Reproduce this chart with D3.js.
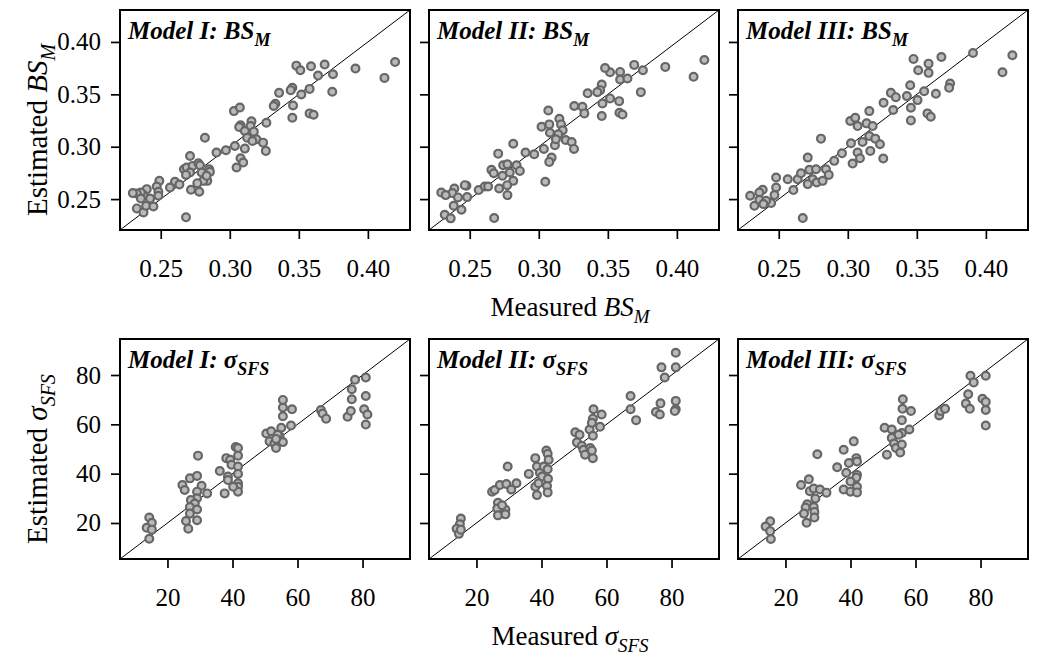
<!DOCTYPE html>
<html>
<head>
<meta charset="utf-8">
<script src="https://cdn.jsdelivr.net/npm/d3@7"></script>
<style>
  body { margin: 0; background: #fff; }
  svg { display: block; }
  text { font-family: "Liberation Serif", "Times New Roman", serif; fill: #000; }
</style>
</head>
<body>
<svg id="chart" width="1037" height="660"></svg>
<script>
// ---- Data: measured vs. estimated BS_M (top row) and sigma_SFS (bottom row) ----
const modelNames = ["Model I", "Model II", "Model III"];

const bsTicks = [0.25, 0.30, 0.35, 0.40];
const sfsTicks = [20, 40, 60, 80];

const bsMeasuredI = [0.3482,0.3511,0.3588,0.3687,0.3639,0.3747,0.3910,0.4197,0.4120,0.3742,0.3578,0.3518,0.3453,0.3441,0.3357,0.3330,0.3318,0.3458,0.3453,0.3578,0.3607,0.3030,0.3073,0.3078,0.3068,0.3157,0.3150,0.3265,0.3109,0.3174,0.3126,0.3193,0.3164,0.3241,0.3261,0.3109,0.3037,0.2972,0.2904,0.2820,0.3078,0.3097,0.3049,0.2712,0.2668,0.2688,0.2731,0.2772,0.2784,0.2851,0.2856,0.2796,0.2837,0.2808,0.2765,0.2712,0.2683,0.2719,0.2779,0.2683,0.2603,0.2567,0.2635,0.2832,0.2490,0.2471,0.2483,0.2483,0.2399,0.2375,0.2356,0.2327,0.2298,0.2327,0.2375,0.2394,0.2447,0.2423,0.2356];
const bsEstimatedI = [0.3774,0.3730,0.3768,0.3784,0.3679,0.3692,0.3746,0.3809,0.3657,0.3524,0.3552,0.3499,0.3562,0.3540,0.3514,0.3410,0.3388,0.3394,0.3277,0.3318,0.3305,0.3340,0.3375,0.3204,0.3188,0.3242,0.3197,0.3229,0.3150,0.3144,0.3086,0.3071,0.3055,0.3039,0.2960,0.2982,0.3007,0.2966,0.2944,0.3086,0.2890,0.2849,0.2801,0.2912,0.2785,0.2801,0.2817,0.2842,0.2823,0.2785,0.2760,0.2754,0.2674,0.2674,0.2652,0.2754,0.2731,0.2589,0.2570,0.2326,0.2665,0.2611,0.2639,0.2722,0.2674,0.2620,0.2570,0.2532,0.2595,0.2538,0.2563,0.2554,0.2557,0.2411,0.2373,0.2437,0.2430,0.2506,0.2506];

const bsMeasuredII = [0.4199,0.4121,0.3916,0.3691,0.3754,0.3589,0.3516,0.3480,0.3589,0.3642,0.3739,0.3456,0.3444,0.3424,0.3354,0.3516,0.3582,0.3461,0.3257,0.3316,0.3330,0.3456,0.3584,0.3606,0.3069,0.3020,0.3076,0.3149,0.3161,0.3081,0.3173,0.3141,0.3117,0.3124,0.3195,0.3238,0.3255,0.3037,0.2967,0.2904,0.2815,0.2706,0.3093,0.3076,0.3047,0.2657,0.2674,0.2742,0.2773,0.2839,0.2863,0.2790,0.2737,0.2815,0.2771,0.2713,0.2773,0.2677,0.2565,0.2609,0.2633,0.2476,0.2464,0.2481,0.2389,0.2374,0.2294,0.2326,0.2384,0.2319,0.2362,0.2440,0.2415];
const bsEstimatedII = [0.3828,0.3667,0.3762,0.3781,0.3730,0.3714,0.3711,0.3752,0.3641,0.3651,0.3521,0.3594,0.3540,0.3521,0.3511,0.3461,0.3435,0.3413,0.3388,0.3381,0.3318,0.3293,0.3324,0.3308,0.3346,0.3191,0.3213,0.3267,0.3213,0.3134,0.3156,0.3118,0.3014,0.3071,0.3064,0.3045,0.2979,0.2979,0.2928,0.2944,0.3029,0.2934,0.2896,0.2855,0.2665,0.2779,0.2747,0.2823,0.2833,0.2823,0.2769,0.2754,0.2722,0.2674,0.2633,0.2601,0.2538,0.2319,0.2586,0.2620,0.2620,0.2627,0.2633,0.2519,0.2601,0.2557,0.2563,0.2538,0.2437,0.2351,0.2316,0.2399,0.2516];

const bsMeasuredIII = [0.4192,0.4120,0.3907,0.3678,0.3585,0.3476,0.3510,0.3585,0.3452,0.3553,0.3638,0.3741,0.3734,0.3312,0.3348,0.3428,0.3505,0.3457,0.3329,0.3259,0.3156,0.3457,0.3577,0.3601,0.3018,0.3054,0.3071,0.3136,0.3180,0.3023,0.3107,0.3156,0.3199,0.3233,0.3163,0.3071,0.3088,0.3035,0.3257,0.2958,0.2902,0.2806,0.2710,0.2565,0.2481,0.2637,0.2661,0.2722,0.2770,0.2842,0.2862,0.2746,0.2710,0.2775,0.2818,0.2606,0.2674,0.2481,0.2469,0.2445,0.2384,0.2360,0.2293,0.2324,0.2360,0.2408,0.2389];
const bsEstimatedIII = [0.3873,0.3711,0.3895,0.3857,0.3793,0.3838,0.3730,0.3705,0.3587,0.3530,0.3505,0.3603,0.3562,0.3514,0.3473,0.3483,0.3445,0.3372,0.3350,0.3419,0.3340,0.3251,0.3318,0.3286,0.3245,0.3277,0.3197,0.3223,0.3197,0.3033,0.3045,0.3102,0.3077,0.3023,0.2960,0.2944,0.2890,0.2839,0.2887,0.2937,0.2865,0.3077,0.2896,0.2690,0.2706,0.2690,0.2747,0.2779,0.2785,0.2785,0.2731,0.2690,0.2643,0.2659,0.2674,0.2586,0.2319,0.2611,0.2538,0.2462,0.2589,0.2563,0.2532,0.2437,0.2494,0.2484,0.2452];

const sfsMeasuredI = [14.4,15.2,13.6,14.4,15.2,24.6,25.3,26.9,29.1,30.5,32.2,29.1,29.1,27.2,28.4,26.9,29.1,26.9,25.7,26.4,29.1,29.4,36.1,37.6,38.6,38.1,39.3,41.0,41.7,41.7,39.7,41.7,41.7,41.7,41.7,41.7,40.2,38.6,50.4,51.9,51.4,52.9,53.4,54.5,55.0,55.5,55.5,55.5,55.5,58.3,58.0,53.9,53.4,67.2,67.7,68.8,75.4,76.4,76.7,76.7,77.7,81.0,81.0,80.5,81.5,81.0];
const sfsEstimatedI = [22.2,20.1,18.1,13.6,17.3,35.4,33.4,38.1,39.1,35.1,32.0,32.7,30.0,29.3,27.9,26.5,25.5,23.8,20.8,17.7,21.1,47.3,41.1,32.0,38.8,46.3,45.6,50.8,50.4,47.3,43.6,42.9,39.9,36.1,34.7,32.7,34.7,37.4,56.3,57.2,53.1,52.2,50.4,55.2,58.6,52.8,63.3,66.8,69.9,66.1,59.5,55.8,54.1,65.8,64.4,62.3,63.1,65.4,70.2,74.2,78.1,79.0,71.5,66.1,64.0,59.9];

const sfsMeasuredII = [15.2,14.9,13.9,14.6,15.2,24.8,25.6,27.2,29.2,29.6,30.7,32.3,26.6,26.4,26.6,28.9,28.9,27.9,36.1,38.1,38.6,38.6,38.1,39.5,40.2,40.7,41.5,41.9,42.2,41.9,42.0,41.7,41.9,39.1,50.4,51.7,50.9,52.4,52.9,53.4,55.0,55.8,55.5,54.8,55.8,56.0,55.8,58.5,58.0,55.5,67.4,67.4,69.1,75.2,76.4,76.6,76.9,77.9,81.3,81.3,81.3,81.3,81.0];
const sfsEstimatedII = [21.8,19.5,17.7,15.6,17.3,32.7,33.4,35.4,35.8,42.9,33.6,36.1,28.2,25.9,23.1,25.5,23.5,27.2,39.9,46.3,42.9,31.3,34.7,40.4,38.8,42.9,49.4,48.1,45.6,41.8,37.9,35.0,32.4,36.1,56.8,55.8,52.7,51.3,49.7,47.7,50.4,46.3,49.4,57.9,55.4,66.1,62.3,64.0,59.0,60.6,71.5,66.1,61.7,65.0,64.0,68.5,83.1,79.0,89.0,83.1,69.5,66.1,65.4];

const sfsMeasuredIII = [15.3,13.9,15.3,15.5,24.8,27.2,27.5,28.7,30.6,32.6,29.2,26.7,26.2,25.7,26.5,28.7,28.9,28.9,29.8,35.9,37.9,37.9,38.7,39.5,40.0,41.0,41.8,42.0,42.0,41.8,42.0,42.0,40.0,50.5,51.2,52.7,52.7,53.4,54.0,55.3,55.8,55.8,55.8,56.0,56.1,58.6,58.1,54.8,67.3,67.7,69.1,75.5,76.2,76.7,76.9,77.9,81.6,80.6,81.6,81.6,81.6];
const sfsEstimatedIII = [20.7,18.6,16.7,13.5,35.4,37.7,32.9,34.0,33.6,32.3,29.9,27.6,26.3,23.8,20.1,26.5,24.5,22.2,47.9,42.6,49.7,33.6,40.4,44.3,32.7,53.1,46.3,44.9,39.5,38.4,34.7,32.4,36.8,58.6,47.7,57.9,54.5,52.2,50.4,48.6,51.8,56.5,61.7,66.3,70.2,65.4,57.9,55.8,63.6,65.4,66.3,68.4,72.2,66.3,79.7,77.0,79.7,70.4,69.1,65.8,59.5];

// ---- Layout ----
const svg = d3.select("#chart");
const colLeft = [120, 429, 738];
const panelW = 290;

const rows = [
  {
    top: 10, height: 220,
    domain: [0.2205, 0.4305],
    ticks: bsTicks, fmt: d3.format(".2f"),
    sym: "BS", symSub: "M",
    measured: [bsMeasuredI, bsMeasuredII, bsMeasuredIII],
    estimated: [bsEstimatedI, bsEstimatedII, bsEstimatedIII]
  },
  {
    top: 339, height: 220,
    domain: [5.4, 94.6],
    ticks: sfsTicks, fmt: d3.format("d"),
    sym: "σ", symSub: "SFS",
    measured: [sfsMeasuredI, sfsMeasuredII, sfsMeasuredIII],
    estimated: [sfsEstimatedI, sfsEstimatedII, sfsEstimatedIII]
  }
];

rows.forEach((row, ri) => {
  colLeft.forEach((left, ci) => {
    const x = d3.scaleLinear().domain(row.domain).range([left, left + panelW]);
    const y = d3.scaleLinear().domain(row.domain).range([row.top + row.height, row.top]);
    const g = svg.append("g");
    const clipId = `clip-${ri}-${ci}`;
    svg.append("clipPath").attr("id", clipId)
      .append("rect").attr("x", left).attr("y", row.top)
      .attr("width", panelW).attr("height", row.height);

    // 1:1 reference line
    g.append("line")
      .attr("clip-path", `url(#${clipId})`)
      .attr("x1", x(row.domain[0])).attr("y1", y(row.domain[0]))
      .attr("x2", x(row.domain[1])).attr("y2", y(row.domain[1]))
      .attr("stroke", "#000").attr("stroke-width", 1);

    // scatter points
    const pts = row.measured[ci].map((m, i) => [m, row.estimated[ci][i]]);
    g.append("g").attr("clip-path", `url(#${clipId})`)
      .selectAll("circle").data(pts).join("circle")
      .attr("cx", d => x(d[0])).attr("cy", d => y(d[1]))
      .attr("r", 3.9)
      .attr("fill", "#bababa")
      .attr("stroke", "#666666")
      .attr("stroke-width", 2.2);

    // frame
    g.append("rect")
      .attr("x", left).attr("y", row.top)
      .attr("width", panelW).attr("height", row.height)
      .attr("fill", "none").attr("stroke", "#000").attr("stroke-width", 2);

    // axes
    const xAxis = d3.axisBottom(x).tickValues(row.ticks).tickFormat(row.fmt)
      .tickSize(9).tickPadding(20);
    const yAxis = d3.axisLeft(y).tickValues(row.ticks)
      .tickFormat(ci === 0 ? row.fmt : () => "")
      .tickSize(9).tickPadding(10);
    const gx = g.append("g").attr("transform", `translate(0,${row.top + row.height})`).call(xAxis);
    const gy = g.append("g").attr("transform", `translate(${left},0)`).call(yAxis);
    [gx, gy].forEach(a => {
      a.select(".domain").remove();
      a.selectAll(".tick line").attr("stroke", "#000").attr("stroke-width", 1.7);
      a.selectAll(".tick text")
        .style("font-family", '"Liberation Serif", "Times New Roman", serif')
        .style("font-size", "25px").attr("fill", "#000");
    });

    // panel title
    const t = g.append("text")
      .attr("x", left + 8).attr("y", row.top + 29)
      .style("font-size", "25px").style("font-weight", "bold").style("font-style", "italic");
    t.append("tspan").text(`${modelNames[ci]}: ${row.sym}`);
    t.append("tspan").attr("dy", 7).style("font-size", "18px").text(row.symSub);
  });

  // shared axis labels
  const midY = row.top + row.height / 2 + 10;
  const yl = svg.append("text")
    .attr("transform", `translate(47,${midY}) rotate(-90)`)
    .attr("text-anchor", "middle").style("font-size", "29px");
  yl.append("tspan").text("Estimated ");
  yl.append("tspan").style("font-style", "italic").text(row.sym);
  yl.append("tspan").style("font-style", "italic").style("font-size", "20px").attr("dy", 8).text(row.symSub);

  const xl = svg.append("text")
    .attr("x", 570).attr("y", row.top + row.height + 86)
    .attr("text-anchor", "middle").style("font-size", "27px");
  xl.append("tspan").text("Measured ");
  xl.append("tspan").style("font-style", "italic").text(row.sym);
  xl.append("tspan").style("font-style", "italic").style("font-size", "19px").attr("dy", 7).text(row.symSub);
});
</script>
</body>
</html>
